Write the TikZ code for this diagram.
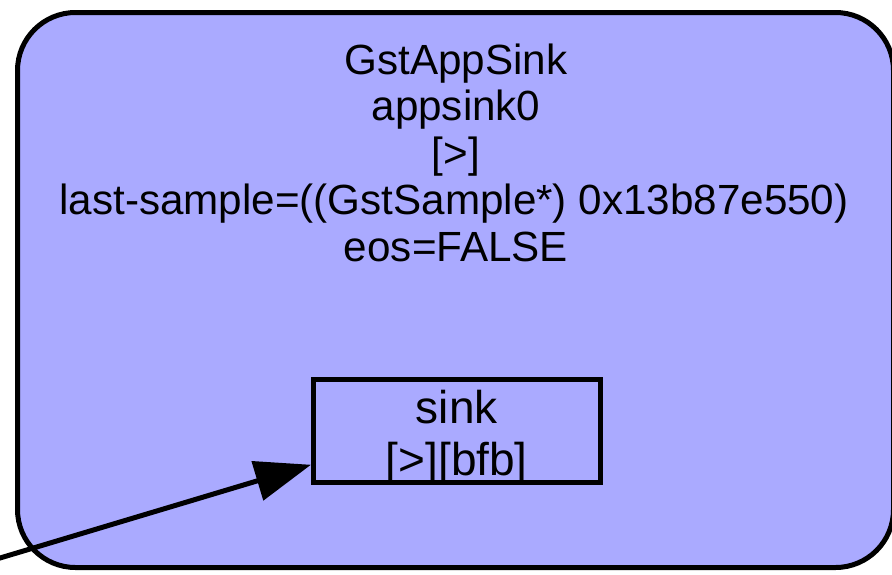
\documentclass[tikz,border=0pt]{standalone}
\usepackage{fontspec}
\setmainfont{Liberation Sans}
\usetikzlibrary{arrows.meta}
\definecolor{elemfill}{HTML}{AAAAFF}
\tikzset{
  txt/.style={anchor=base, inner sep=0pt, font=\fontsize{42.2}{47}\selectfont},
  padtxt/.style={anchor=base, inner sep=0pt, font=\fontsize{46}{52}\selectfont},
  boxline/.style={draw=black, line width=5pt},
  link/.style={line width=5pt, -{Triangle[length=56pt,width=40pt]}}
}
\begin{document}
\begin{tikzpicture}[x=1pt,y=-1pt]
\useasboundingbox (0,0) rectangle (892,574);
\clip (0,0) rectangle (892,574);
\node[boxline, fill=elemfill, rounded corners=58pt, minimum width=876pt, minimum height=555pt, inner sep=0pt] (elem) at (455.5,290) {};
\node[txt] (l1) at (456,74) {GstAppSink};
\node[txt] (l2) at (456,120.5) {appsink0};
\node[txt] (l3) at (456,167) {[>]};
\node[txt] (l4) at (454,214) {last-sample=((GstSample*) 0x13b87e550)};
\node[txt] (l5) at (456,261) {eos=FALSE};
\node[boxline, minimum width=286.5pt, minimum height=102.5pt, inner sep=0pt] (sink) at (456.75,430.75) {};
\node[padtxt] (s1) at (456.75,423) {sink};
\node[padtxt] (s2) at (456.75,475) {[>][bfb]};
\coordinate (src) at (-20,564);
\draw[link] (src) -- ([yshift=-34pt]sink.west);
\end{tikzpicture}
\end{document}
